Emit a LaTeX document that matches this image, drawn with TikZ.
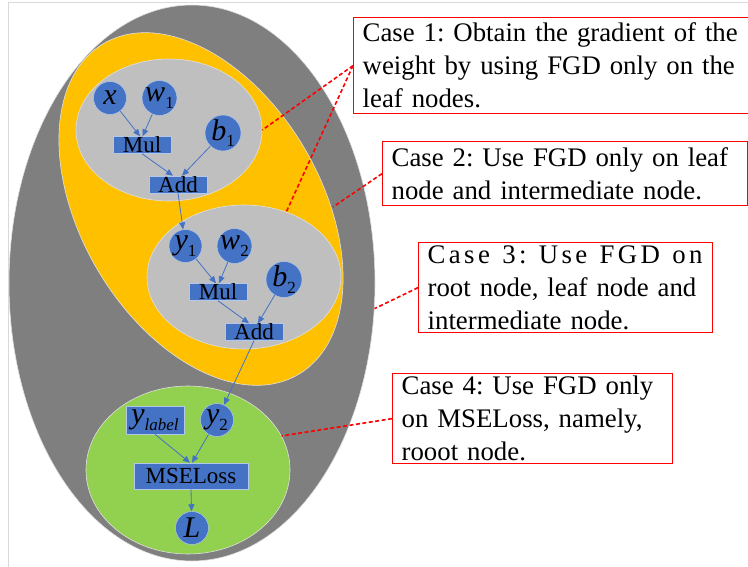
\documentclass[tikz,border=0pt]{standalone}
\usepackage{fontspec}
\setmainfont{Liberation Serif}
\usetikzlibrary{shapes.geometric,arrows.meta}
\definecolor{outg}{HTML}{7F7F7F}
\definecolor{orng}{HTML}{FFC000}
\definecolor{lgr}{HTML}{BFBFBF}
\definecolor{grn}{HTML}{92D050}
\definecolor{nblue}{HTML}{4472C4}
\definecolor{frm}{HTML}{D9D9D9}
\newcommand{\vsub}[2]{\textit{#1}\raisebox{-0.22em}{\fontsize{17}{17}\selectfont #2}}
\begin{document}
\frenchspacing
\begin{tikzpicture}[x=1pt,y=-1pt,
  region/.style={ellipse, draw=white!88!black, line width=0.6pt, inner sep=0pt},
  varnode/.style={circle, fill=nblue, draw=white!60!nblue, line width=0.5pt, minimum size=33pt, inner sep=0pt, font=\fontsize{30}{30}\selectfont},
  opnode/.style={rectangle, fill=nblue, draw=white!60!nblue, line width=0.5pt, minimum width=58pt, minimum height=17pt, inner sep=0pt, font=\fontsize{23}{23}\selectfont},
  flow/.style={draw=nblue, line width=0.8pt, -{Triangle[length=7pt,width=6pt]}},
  casebox/.style={draw=red, line width=1.3pt, fill=white, anchor=north west, inner xsep=9pt, inner ysep=0pt, align=left, font=\fontsize{26.8}{33}\selectfont\frenchspacing},
  callout/.style={draw=red, line width=1.6pt, dash pattern=on 4pt off 2.5pt}]
\useasboundingbox (0,0) rectangle (748,567);
% frame
\draw[frm, line width=0.8pt] (748,2.5) -- (8,2.5) -- (8,567);
% regions
\node[region, fill=outg, minimum width=366pt, minimum height=556pt] (g0) at (192,283) {};
\node[region, fill=orng, minimum width=384pt, minimum height=240pt, rotate=-59.5] (or) at (201,209) {};
\node[region, fill=lgr, minimum width=186pt, minimum height=142pt] (g1) at (169,130) {};
\node[region, fill=lgr, minimum width=194pt, minimum height=144pt] (g2) at (244,277) {};
\node[region, fill=grn, minimum width=204pt, minimum height=168pt] (gr) at (188,470) {};
% graph nodes
\node[varnode] (x) at (110,98) {\textit{x}};
\node[varnode] (w1) at (159.5,98) {\vsub{w}{1}};
\node[varnode] (b1) at (223,133) {\vsub{b}{1}};
\node[opnode] (mul1) at (142,145) {Mul};
\node[opnode] (add1) at (178,184.5) {Add};
\node[varnode] (y1) at (185.5,246) {\vsub{y}{1}};
\node[varnode] (w2) at (234.5,246) {\vsub{w}{2}};
\node[varnode] (b2) at (284,279.5) {\vsub{b}{2}};
\node[opnode] (mul2) at (218,292) {Mul};
\node[opnode] (add2) at (254,332) {Add};
\node[opnode, minimum height=28pt, font=\fontsize{30}{30}\selectfont] (ylab) at (155,420) {\vsub{y}{\textit{label}}};
\node[varnode] (y2) at (217,420) {\vsub{y}{2}};
\node[opnode, minimum width=114pt, minimum height=26pt] (mse) at (191,476) {MSELoss};
\node[varnode] (L) at (192,528) {\textit{L}};
% connectors
\draw[flow] (x) -- ([xshift=-2pt]mul1.north);
\draw[flow] (w1) -- ([xshift=0.5pt]mul1.north);
\draw[flow] (mul1.south) -- ([xshift=-5pt]add1.north);
\draw[flow] (b1) -- ([xshift=4pt]add1.north);
\draw[flow] (add1.south) -- (y1);
\draw[flow] (y1) -- ([xshift=-2pt]mul2.north);
\draw[flow] (w2) -- ([xshift=1pt]mul2.north);
\draw[flow] (mul2.south) -- ([xshift=-5pt]add2.north);
\draw[flow] (b2) -- ([xshift=4pt]add2.north);
\draw[flow] (add2.south) -- (y2);
\draw[flow] (ylab.south) -- ([xshift=-1pt]mse.north);
\draw[flow] (y2) -- ([xshift=1pt]mse.north);
\draw[flow] (mse.south) -- (L);
% case boxes
\node[casebox, text width=382pt, minimum width=400pt, minimum height=96pt] (c1) at (353,17)
  {\makebox[382pt][s]{Case 1: Obtain the gradient of the}\\
   \makebox[382pt][s]{weight by using FGD only on the}\\
   leaf nodes.};
\node[casebox, text width=347pt, minimum width=365pt, minimum height=64pt] (c2) at (382,141)
  {\makebox[345pt][s]{Case 2: Use FGD only on leaf}\\
   node and intermediate node.};
\node[casebox, text width=276pt, minimum width=294pt, minimum height=90pt] (c3) at (418,242)
  {\makebox[275pt][s]{C\hfill a\hfill s\hfill e\hfill\ 3\hfill :\hfill\ U\hfill s\hfill e\hfill\ F\hfill G\hfill D\hfill\ o\hfill n}\\
   \makebox[275pt][s]{root node, leaf node and}\\
   intermediate node.};
\node[casebox, text width=262pt, minimum width=280pt, minimum height=90pt] (c4) at (392,373)
  {\makebox[260pt][s]{Case 4: Use FGD only}\\
   \makebox[260pt][s]{on MSELoss, namely,}\\
   rooot node.};
% callouts
\coordinate (c2e) at (333,207);
\draw[callout] (c1.west) -- (g1.east);
\draw[callout] (c1.west) -- (g2.57);
\draw[callout] (c2.west) -- (c2e);
\draw[callout] (c3.west) -- (g0.-8);
\draw[callout] (c4.west) -- (gr.20);
\end{tikzpicture}
\end{document}
